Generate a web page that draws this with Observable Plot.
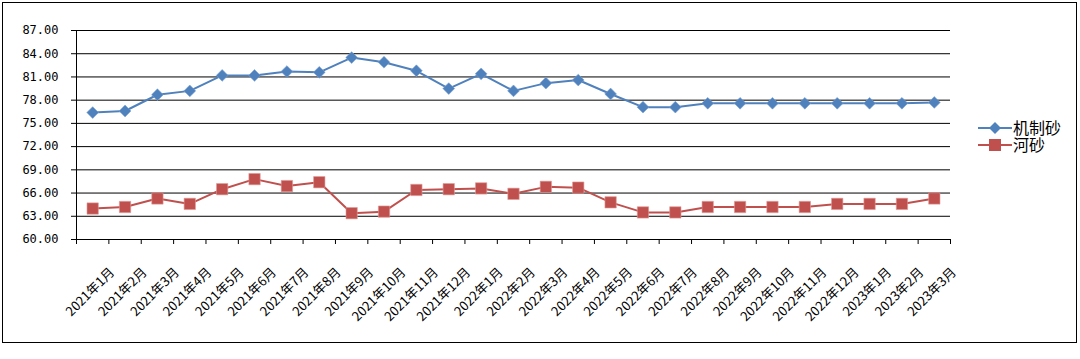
<!DOCTYPE html>
<html>
<head>
<meta charset="utf-8">
<script src="https://cdn.jsdelivr.net/npm/d3@7"></script>
<script src="https://cdn.jsdelivr.net/npm/@observablehq/plot@0.6"></script>
<style>
  html, body { margin: 0; padding: 0; background: #fff; }
  #wrap { position: relative; width: 1080px; height: 359px; }
  #border { position: absolute; left: 2px; top: 2px; width: 1075px; height: 341px; border: 1px solid #000; box-sizing: border-box; pointer-events: none; }
  #chart { position: absolute; left: 0; top: 0; }
  #legend { position: absolute; left: 978px; top: 119px; font-family: "Noto Sans CJK SC", sans-serif; font-size: 16px; line-height: 17px; color: #000; }
  .row { display: flex; align-items: center; height: 17px; overflow: visible; }
  .row span { line-height: 17px; display: block; }
  .row svg { display: block; margin-right: 1px; }
</style>
</head>
<body>
<div id="wrap">
  <div id="chart"></div>
  <div id="border"></div>
  <div id="legend"></div>
</div>
<script>
const months = [
  "2021年1月","2021年2月","2021年3月","2021年4月","2021年5月","2021年6月",
  "2021年7月","2021年8月","2021年9月","2021年10月","2021年11月","2021年12月",
  "2022年1月","2022年2月","2022年3月","2022年4月","2022年5月","2022年6月",
  "2022年7月","2022年8月","2022年9月","2022年10月","2022年11月","2022年12月",
  "2023年1月","2023年2月","2023年3月"
];
const seriesNames = ["机制砂", "河砂"];
const seriesColors = ["#4F81BD", "#C0504D"];
const jizhisha = [76.4, 76.6, 78.7, 79.2, 81.2, 81.2, 81.7, 81.6, 83.5, 82.9, 81.8, 79.5,
                  81.4, 79.2, 80.2, 80.6, 78.8, 77.1, 77.1, 77.6, 77.6, 77.6, 77.6, 77.6,
                  77.6, 77.6, 77.7];
const hesha = [64.0, 64.2, 65.3, 64.6, 66.5, 67.8, 66.9, 67.4, 63.4, 63.6, 66.4, 66.5,
               66.6, 65.9, 66.8, 66.7, 64.8, 63.5, 63.5, 64.2, 64.2, 64.2, 64.2, 64.6,
               64.6, 64.6, 65.3];
const yTicks = [60, 63, 66, 69, 72, 75, 78, 81, 84, 87];

const rowsA = months.map((m, i) => ({m, i: i + 0.5, v: jizhisha[i]}));
const rowsB = months.map((m, i) => ({m, i: i + 0.5, v: hesha[i]}));
const boundaries = d3.range(months.length + 1);

const monoFont = "'DejaVu Sans Mono', monospace";
const cjkFont = "'Noto Sans CJK SC', sans-serif";

const plot = Plot.plot({
  width: 1080,
  height: 359,
  marginLeft: 76,
  marginRight: 130,
  marginTop: 30,
  marginBottom: 120,
  style: {background: "transparent", color: "#000"},
  x: {type: "linear", domain: [0, months.length], axis: null},
  y: {domain: [60, 87], axis: null},
  marks: [
    Plot.ruleY(yTicks, {stroke: "#000", strokeWidth: 1}),
    Plot.ruleX([0], {stroke: "#000", strokeWidth: 1}),
    Plot.axisY({ticks: yTicks, tickFormat: d => d.toFixed(2), tickSize: 5, tickPadding: 13,
      fontFamily: monoFont, fontSize: 12, stroke: "#000", label: null}),
    Plot.axisX({ticks: boundaries, tickSize: 5, tickFormat: () => "", label: null, stroke: "#000"}),
    Plot.text(months, {x: (d, i) => i + 0.5, frameAnchor: "bottom", text: d => d,
      rotate: -45, textAnchor: "end", lineAnchor: "top", dx: 16, dy: 27,
      fontFamily: cjkFont, fontSize: 13, fill: "#000"}),
    Plot.line(rowsA, {x: "i", y: "v", stroke: seriesColors[0], strokeWidth: 2}),
    Plot.line(rowsB, {x: "i", y: "v", stroke: seriesColors[1], strokeWidth: 2}),
    Plot.dot(rowsA, {x: "i", y: "v", symbol: "diamond2", r: 5.3, fill: seriesColors[0], stroke: "#7aa3d4", strokeWidth: 0.6}),
    Plot.dot(rowsB, {x: "i", y: "v", symbol: "square", r: 6.4, fill: seriesColors[1], stroke: "#e09a98", strokeWidth: 0.6})
  ]
});
document.getElementById("chart").appendChild(plot);

// Legend
const legend = d3.select("#legend");
seriesNames.forEach((name, k) => {
  const row = legend.append("div").attr("class", "row");
  const s = row.append("svg").attr("width", 34).attr("height", 14);
  s.append("line").attr("x1", 0).attr("x2", 34).attr("y1", 7).attr("y2", 7)
    .attr("stroke", seriesColors[k]).attr("stroke-width", 2);
  if (k === 0) {
    s.append("path").attr("d", "M17,1 L23,7 L17,13 L11,7 Z").attr("fill", seriesColors[k]);
  } else {
    s.append("rect").attr("x", 11).attr("y", 1).attr("width", 12).attr("height", 12).attr("fill", seriesColors[k]);
  }
  row.append("span").text(name);
});
</script>
</body>
</html>
